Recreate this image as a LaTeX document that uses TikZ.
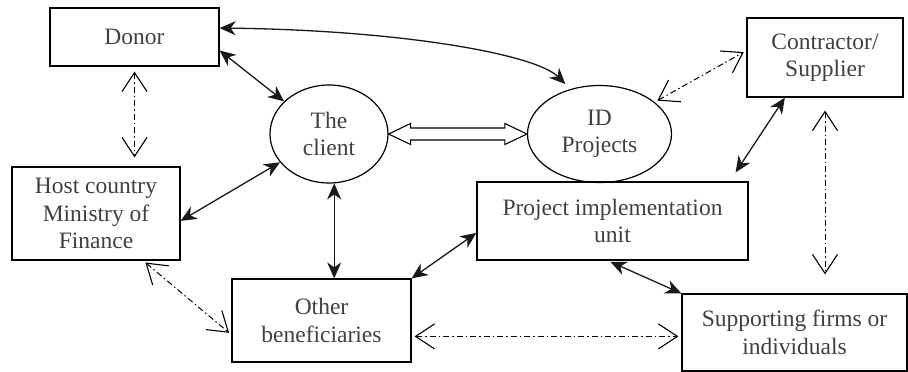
\documentclass[tikz,border=0pt]{standalone}
\usepackage{fontspec}
\setmainfont{Liberation Serif}
\usetikzlibrary{arrows.meta,shapes.geometric,calc}
\tikzset{
	every party/.style={
		draw,
		line width=1.2pt,
		inner sep=0pt,
		align=center,
		text=black!75,
		font=\fontsize{23.5}{27.5}\selectfont
	},
	party box/.style={
		every party,
		rectangle
	},
	party oval/.style={
		every party,
		ellipse
	},
	link/.style={
		<->,
		line width=1.3pt,
		draw=black!90
	},
	dashlink/.style={
		{Straight Barb[length=19pt,width=25pt,line width=1.1pt]}-{Straight Barb[length=19pt,width=25pt,line width=1.1pt]},
		line width=1pt,
		dash pattern=on 6pt off 3pt on 1.5pt off 3pt
	},
	hollow/.style={
		draw,
		fill=white,
		line width=1.1pt,
		line join=miter
	}
}

\begin{document}
\begin{tikzpicture}[x=1pt, y=-1pt, >={Stealth[length=16pt,width=14pt,inset=5pt]}]

\useasboundingbox (0,0) rectangle (908,372);

% boxes
\node [party box, minimum width=169pt, minimum height=58pt] (donor) at (134.5,37) {Donor};
\node [party box, minimum width=168pt, minimum height=93pt] (host) at (96,213.5) {Host country\\Ministry of\\Finance};
\node [party box, minimum width=156pt, minimum height=79pt] (con) at (825,57.5) {Contractor/\\Supplier};
\node [party box, minimum width=271pt, minimum height=78pt] (piu) at (612.5,221) {Project implementation\\unit};
\node [party box, minimum width=179pt, minimum height=83pt] (ob) at (321.5,320.5) {Other\\beneficiaries};
\node [party box, minimum width=225pt, minimum height=77pt] (sf) at (794.5,332.5) {Supporting firms or\\individuals};

% ovals
\node [party oval, minimum width=118pt, minimum height=98pt] (client) at (329,134) {The\\client};
\node [party oval, minimum width=144pt, minimum height=97pt] (idp) at (599.5,134) {ID\\Projects};

\coordinate (piu-tip) at ([shift={(-13,-9)}]piu.north east);

% solid two-way links
\foreach \a/\b in {donor.-9/client.144, host.-5/client.210, ob.north east/piu.185, con.225/piu-tip}
	\draw [link] (\a) -- (\b);

\draw [link] (client.-84) -- (client.-84 |- ob.north);
\draw [link, shorten <=3pt] (piu.263) -- (sf.north west);

\draw [link, shorten >=7pt] (donor.6) .. controls +(180,2) and +(-35,-35) .. (idp.123);

% dash-dot links
\draw [dashlink, shorten <=5pt, shorten >=9pt] (donor.south) -- (donor.south |- host.north);
\draw [dashlink, shorten <=3pt, shorten >=3pt] (host.-45) -- (ob.189);
\draw [dashlink, shorten <=3pt, shorten >=3pt] (ob.-10) -- (ob.-10 -| sf.west);
\draw [dashlink, shorten <=3pt, shorten >=3pt] (idp.30) -- (con.175);
\draw [dashlink, shorten <=13pt, shorten >=19pt] (con.south) -- (con.south |- sf.north);

% hollow arrow between the ovals
\draw [hollow] (client.east) -- ++(22,-10.5) -- ++(0,4.5) -- ($(idp.west)+(-22,-6)$) -- ++(0,-4.5)
	-- (idp.west) -- ++(-22,10.5) -- ++(0,-4.5) -- ($(client.east)+(22,6)$) -- ++(0,4.5) -- cycle;

\end{tikzpicture}
\end{document}
